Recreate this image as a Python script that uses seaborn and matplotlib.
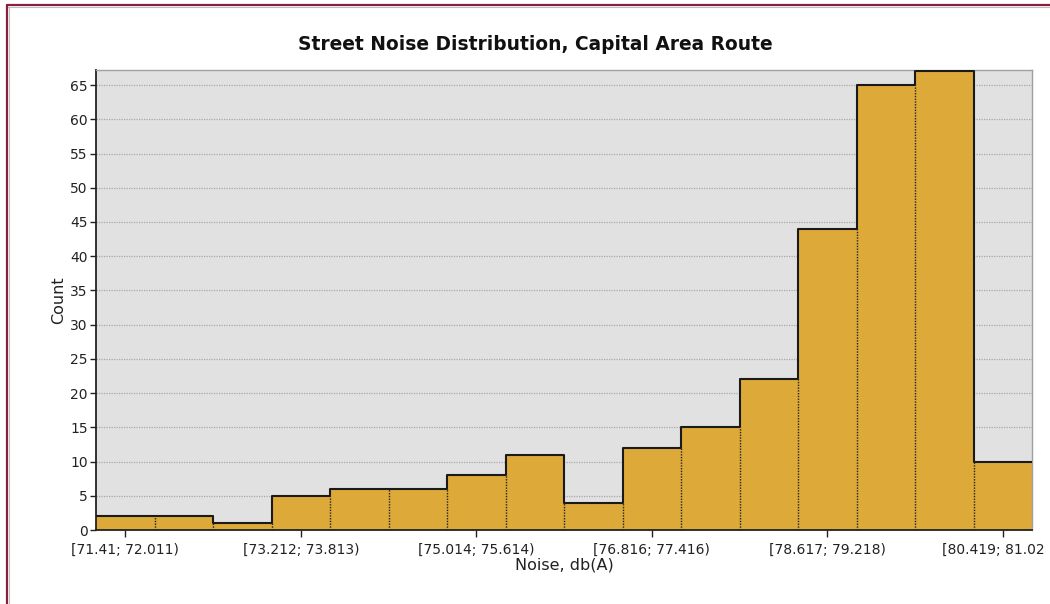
import numpy as np
import pandas as pd
import matplotlib
matplotlib.use("Agg")
import matplotlib.pyplot as plt
from matplotlib.lines import Line2D
from matplotlib.transforms import ScaledTranslation
import seaborn as sns

# histogram bins (16 equal bins from 71.41 to 81.02)
lo, hi = 71.41, 81.02
counts = [2, 2, 1, 5, 6, 6, 8, 11, 4, 12, 15, 22, 44, 65, 67, 10]
tick_bins = [0, 3, 6, 9, 12, 15]
tick_labels = ["[71.41; 72.011)", "[73.212; 73.813)", "[75.014; 75.614)",
               "[76.816; 77.416)", "[78.617; 79.218)", "[80.419; 81.02"]

edges = np.linspace(lo, hi, len(counts) + 1)
centers = (edges[:-1] + edges[1:]) / 2
df = pd.DataFrame({"noise": centers, "count": counts})

sns.set_style("white")
plt.rcParams['font.family'] = ['DejaVu Sans']

fig = plt.figure(figsize=(10.5, 6.04), dpi=100)
ax = fig.add_axes([96 / 1050, 74 / 604, 936 / 1050, 460 / 604])
ax.set_facecolor("#e1e1e1")

sns.histplot(data=df, x="noise", weights="count", bins=list(edges), ax=ax,
             color="#dda938", alpha=1, edgecolor="none", linewidth=0, zorder=2)
# dotted separators between neighbouring bars
for i in range(1, len(counts)):
    ax.vlines(edges[i], 0, min(counts[i - 1], counts[i]), colors="#222222",
              linestyles=(0, (1, 1)), linewidth=1, zorder=3)
sns.histplot(data=df, x="noise", weights="count", bins=list(edges), ax=ax,
             element="step", fill=False, color="#1a1a1a", linewidth=1.5, zorder=4)

ax.set_xlim(lo, hi)
ax.set_ylim(0, 67.2)
ax.set_yticks(range(0, 66, 5))
ax.set_xticks(centers[tick_bins])
ax.set_xticklabels(tick_labels)
ax.yaxis.grid(True, color="#a8a8a8", linestyle=(0, (1, 1)), linewidth=0.9, zorder=0)
ax.set_axisbelow(True)

ax.tick_params(axis="both", direction="out", length=4, width=1, color="#222222",
               labelsize=10, labelcolor="#222222", pad=2, bottom=True, left=True)
ax.tick_params(axis="x", length=5, pad=4)

# last label sits at the right edge, nudge it left so it stays inside
last = ax.get_xticklabels()[-1]
last.set_transform(last.get_transform() + ScaledTranslation(-0.09, 0, fig.dpi_scale_trans))

for s in ["left", "bottom"]:
    ax.spines[s].set_color("#222222")
    ax.spines[s].set_linewidth(1.3)
for s in ["top", "right"]:
    ax.spines[s].set_color("#a0a0a0")
    ax.spines[s].set_linewidth(1)

ax.set_xlabel("Noise, db(A)", fontsize=11.5, color="#222222", labelpad=1)
ax.set_ylabel("Count", fontsize=11.5, color="#222222", labelpad=3)
fig.text(535 / 1050, 1 - 44 / 604, "Street Noise Distribution, Capital Area Route",
         ha="center", va="center", fontsize=13.4, fontweight="bold", color="#111111")

# window frame along the top and left edge
fig.add_artist(Line2D([7 / 1050, 1], [1 - 5 / 604, 1 - 5 / 604], color="#8b1e3f", linewidth=1.6))
fig.add_artist(Line2D([7 / 1050, 1], [1 - 7 / 604, 1 - 7 / 604], color="#c0c0c0", linewidth=0.8))
fig.add_artist(Line2D([7 / 1050, 7 / 1050], [0, 1 - 5 / 604], color="#8b1e3f", linewidth=1.6))
fig.add_artist(Line2D([9 / 1050, 9 / 1050], [0, 1 - 7 / 604], color="#c0c0c0", linewidth=0.8))

fig.savefig("out.png", dpi=100, facecolor="white")
